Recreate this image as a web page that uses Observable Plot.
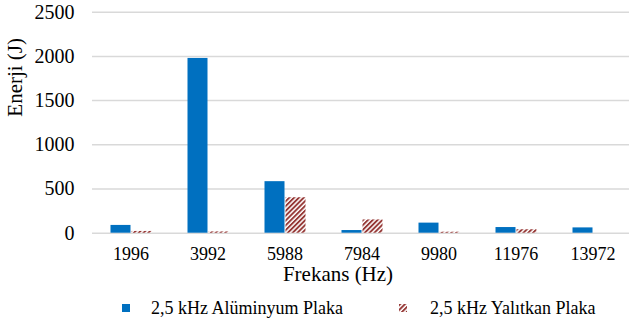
<!DOCTYPE html>
<html>
<head>
<meta charset="utf-8">
<script src="https://cdn.jsdelivr.net/npm/d3@7"></script>
<script src="https://cdn.jsdelivr.net/npm/@observablehq/plot@0.6"></script>
<style>
  html, body { margin: 0; padding: 0; background: #fff; color: #000; overflow: hidden; }
  body { font-family: 'Liberation Serif', serif; }
  #chart { width: 629px; }
  .legend { display: flex; align-items: center; height: 20px; margin-top: 8px; font-size: 18px; line-height: 20px; }
  .legend .sw { width: 8px; height: 8px; display: inline-block; }
</style>
</head>
<body>
<div id="chart"></div>
<script>
// Frequencies (Hz) on the x axis
const frequencies = ["1996", "3992", "5988", "7984", "9980", "11976", "13972"];
// Energy (J) per frequency for each plate
const aluminyum = [88, 1977, 583, 30, 114, 64, 60];
const yalitkan = [20, 14, 401, 150, 11, 39, 0];
// Value axis ticks
const yTicks = [0, 500, 1000, 1500, 2000, 2500];

const seriesNames = ["2,5 kHz Alüminyum Plaka", "2,5 kHz Yalıtkan Plaka"];
const blue = "#0070C0";
const red = "#953735";
const serif = "'Liberation Serif', serif";

const rows = frequencies.map((f, i) => ({freq: f, al: aluminyum[i], yal: yalitkan[i]}));

// Diagonal stripe pattern for the insulating plate bars
const hatchDefs = () => {
  const defs = d3.create("svg:defs");
  const p = defs.append("pattern")
    .attr("id", "hatch")
    .attr("patternUnits", "userSpaceOnUse")
    .attr("width", 3.4).attr("height", 3.4)
    .attr("patternTransform", "rotate(45)");
  p.append("rect").attr("width", 3.4).attr("height", 3.4).attr("fill", "#fff");
  p.append("rect").attr("width", 1.9).attr("height", 3.4).attr("fill", red);
  return defs.node();
};

const chart = Plot.plot({
  width: 629,
  height: 290,
  marginTop: 11.7,
  marginBottom: 57.3,
  marginLeft: 92,
  marginRight: 0,
  style: `font-family: ${serif}; font-size: 18px; color: #000; background: #fff;`,
  x: {type: "band", domain: frequencies, range: [92, 631], padding: 0},
  y: {domain: [0, 2500]},
  marks: [
    hatchDefs,
    Plot.gridY(yTicks, {stroke: "#D9D9D9", strokeOpacity: 1, strokeWidth: 1.5}),
    Plot.barY(rows, {x: "freq", y: "al", fill: blue, insetLeft: 18.5, insetRight: 38.5}),
    Plot.barY(rows, {x: "freq", y: "yal", fill: "url(#hatch)", insetLeft: 39.5, insetRight: 17.5}),
    Plot.axisY(yTicks, {tickSize: 0, tickPadding: 18, tickFormat: d3.format("d"), label: null, fontFamily: serif, fontSize: 20}),
    Plot.axisX({tickSize: 0, tickPadding: 14, label: null, fontFamily: serif, fontSize: 18}),
    Plot.text(["Enerji (J)"], {frameAnchor: "left", rotate: -90, dx: -77, dy: -6, fontSize: 21, fontFamily: serif}),
    Plot.text(["Frekans (Hz)"], {frameAnchor: "bottom", dy: 48, dx: -23, fontSize: 21, fontFamily: serif})
  ]
});
chart.setAttribute("font-family", serif);
document.getElementById("chart").append(chart);

// Legend below the chart
const legend = d3.select("#chart").append("div").attr("class", "legend").style("font-family", serif);
const item1 = legend.append("span").style("display", "flex").style("align-items", "center").style("margin-left", "122px");
item1.append("span").attr("class", "sw").style("background", blue);
item1.append("span").style("margin-left", "21px").text(seriesNames[0]);
const item2 = legend.append("span").style("display", "flex").style("align-items", "center").style("margin-left", "56px");
item2.append("svg").attr("width", 8).attr("height", 8)
  .append("rect").attr("width", 8).attr("height", 8).attr("fill", "url(#hatch)");
item2.append("span").style("margin-left", "23px").text(seriesNames[1]);
</script>
</body>
</html>
